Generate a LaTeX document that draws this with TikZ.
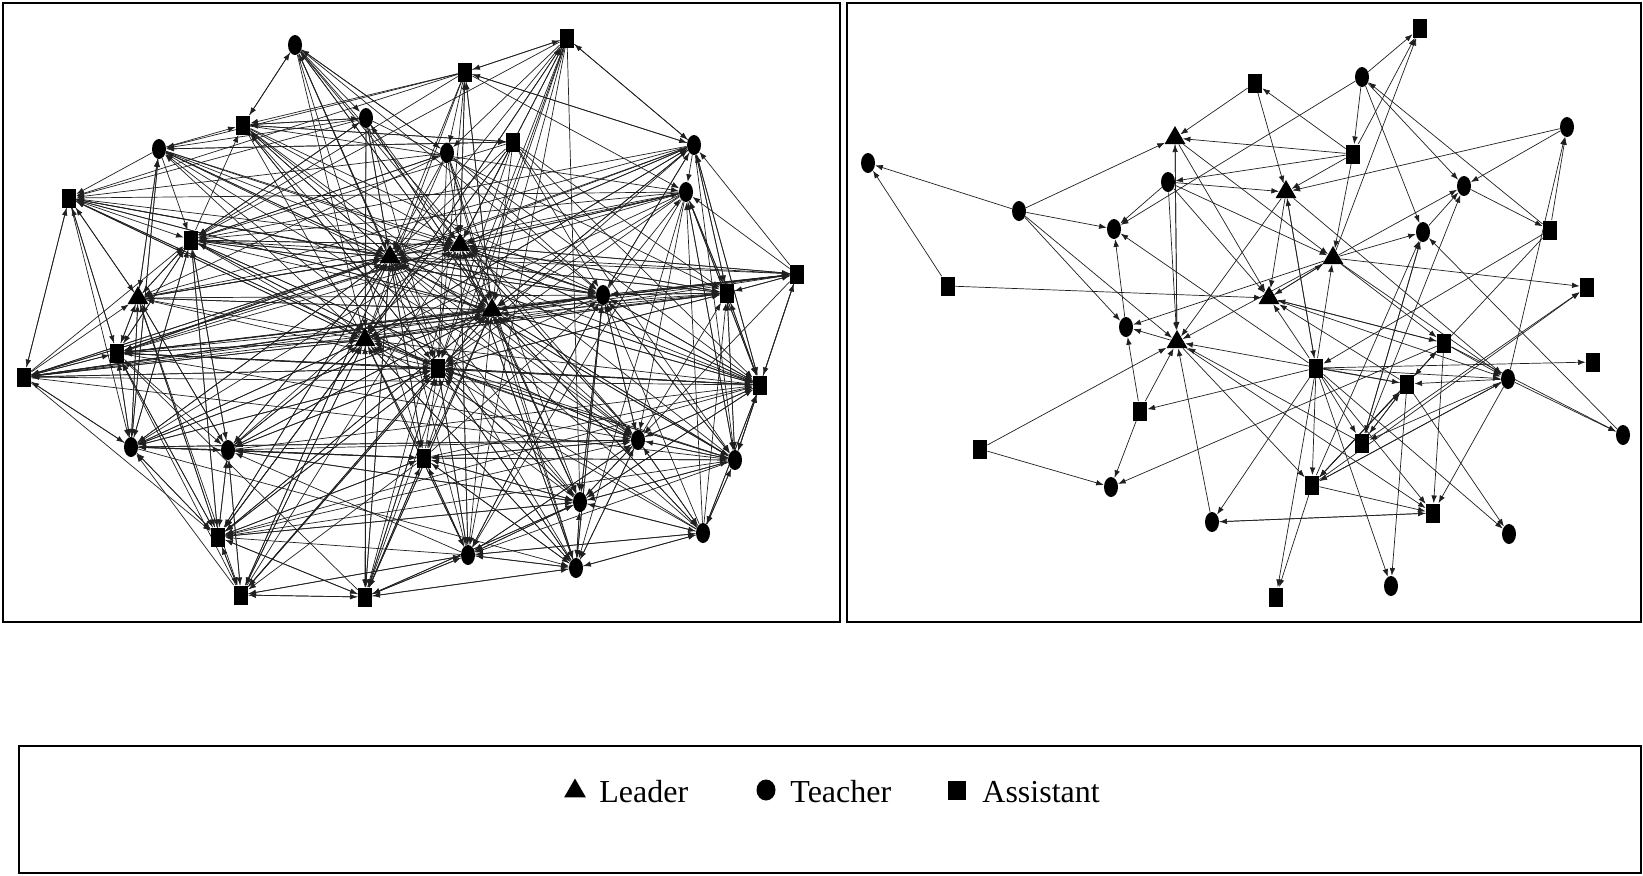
\documentclass[tikz,border=0pt]{standalone}
\usepackage{fontspec}
\setmainfont{Liberation Serif}
\usetikzlibrary{shapes.geometric,arrows.meta}
\pgfdeclarelayer{bg}
\pgfsetlayers{bg,main}
\begin{document}
\begin{tikzpicture}[x=0.5pt,y=-0.5pt,
  sq/.style={rectangle,fill=black,inner sep=0pt,minimum width=7pt,minimum height=9.5pt},
  ci/.style={ellipse,fill=black,inner sep=0pt,minimum width=7pt,minimum height=10pt},
  tr/.style={regular polygon,regular polygon sides=3,fill=black,inner sep=0pt,minimum size=12pt},
  edge/.style={draw=black!88,line width=0.35pt,-{Latex[length=3.8pt,width=2.8pt]}},
  frame/.style={draw=black,line width=1pt},
  legtext/.style={anchor=west,inner sep=0pt,font=\fontsize{16}{19}\selectfont}]
\useasboundingbox (0,0) rectangle (1643,875);

% panel frames
\draw[frame] (3,3) rectangle (840,622);
\draw[frame] (847,3) rectangle (1641,622);
\draw[frame] (19,746) rectangle (1641,873);

% left network nodes
\foreach \n/\s/\x/\y in {1/ci/295/45,2/sq/567/38,3/sq/465/72,4/sq/243/125,5/ci/366/118,
  6/ci/159/149,7/sq/513/142,8/ci/447/153,9/ci/694/145,10/sq/69/198,11/ci/686/192,
  12/sq/191/240,13/tr/390/257,14/tr/460/245,15/tr/138/298,16/ci/603/295,17/sq/727/293,
  18/sq/797/274,19/tr/492/310,20/tr/365/340,21/sq/117/353,22/sq/24/377,23/sq/438/368,
  24/sq/760/385,25/ci/131/447,26/ci/228/450,27/sq/424/458,28/ci/638/440,29/ci/735/460,
  30/ci/580/502,31/sq/218/537,32/ci/703/533,33/ci/468/555,34/ci/576/568,35/sq/241/595,
  36/sq/365/597}
  {\node[\s] (L\n) at (\x,\y) {};}

% right network nodes
\foreach \n/\s/\x/\y in {1/ci/868/163,2/ci/1019/211,3/ci/1114/229,4/ci/1168/182,
  5/tr/1175/138,6/sq/1255/83,7/sq/948/286,8/sq/1420/28,9/ci/1362/77,10/ci/1567/127,
  11/sq/1353/154,12/tr/1286/192,13/ci/1464/186,14/ci/1423/232,15/sq/1550/230,
  16/tr/1333/258,17/sq/1587/287,18/tr/1269/298,19/ci/1126/327,20/tr/1177/342,
  21/sq/1140/411,22/sq/980/449,23/ci/1111/487,24/ci/1212/522,25/sq/1444/343,
  26/sq/1316/368,27/sq/1407/384,28/ci/1508/379,29/sq/1593/362,30/ci/1623/435,
  31/sq/1362/443,32/sq/1312/485,33/sq/1433/513,34/ci/1509/534,35/ci/1391/586,
  36/sq/1276/597}
  {\node[\s] (R\n) at (\x,\y) {};}

\begin{pgfonlayer}{bg}
% left network edges
\foreach \s/\tl in {
  1/{4,5,13,14,19,20,23,16,27,8,28},
  2/{3,9,13,14,19,20,23,12,8,27,33,30,36},
  3/{2,9,11,8,13,14,19,20,23,12,10,4,6},
  4/{1,5,7,13,14,19,23,28,16,11,30,20},
  5/{4,6,10,13,20,23,27,36,14,19,12,17},
  6/{10,4,15,25,12,13,14,19,28,16,7,24},
  7/{4,6,13,14,19,20,23,12,16,17,24,29,31},
  8/{1,12,13,14,19,20,23,10,16,24,30,34,15},
  9/{2,3,13,14,19,20,23,12,15,21,17,24,29,11,16},
  10/{12,15,13,14,19,20,23,21,25,16,22},
  11/{13,14,19,20,23,12,15,21,17,24,28,29,33,34,10},
  12/{4,5,8,13,14,19,20,23,15,21,25,26,31,16,28},
  13/{4,6,10,12,15,21,22,25,26,31,35,36,17,24,29},
  14/{2,3,9,11,17,18,24,16,28,30,33,34,12,22},
  15/{6,10,12,13,14,19,20,21,25,26,31,35,16},
  16/{13,14,19,20,23,9,11,17,18,24,28,29,30,33,34,12,21,22},
  17/{9,11,18,24,29,13,14,19,20,23,16,21},
  18/{9,11,17,24,29,13,14,19,16,28,21,22,12},
  19/{1,3,5,9,10,15,22,24,25,26,31,32,35,36,18,29},
  20/{2,6,10,21,22,25,26,31,35,36,33,34,17,18,9},
  21/{10,12,15,22,25,26,13,14,19,20,23,28,24,18,31},
  22/{10,21,15,25,12,13,14,19,20,23,29,17,31},
  23/{1,4,6,10,12,15,21,22,25,26,31,35,36,33,34,30,29,24,17},
  24/{17,18,29,11,9,16,13,14,19,20,23,28,30,32,21,22},
  25/{21,22,15,26,31,12,13,14,19,20,23,28,27,6,34},
  26/{25,27,12,15,13,14,19,20,23,31,35,30,28,24},
  27/{26,25,20,13,19,23,28,29,30,33,34,36,35,31,16,24},
  28/{16,17,24,29,13,14,19,20,23,30,33,34,32,27,12,25},
  29/{24,17,28,32,30,27,13,14,19,20,23,16,11,31,33},
  30/{33,34,28,32,29,13,14,19,20,23,16,27,36,31,26,24},
  31/{35,36,25,26,15,12,13,19,20,23,21,27,30,28,24},
  32/{34,30,29,24,28,16,13,19,20,23,33,11,17},
  33/{34,36,30,27,35,13,14,19,20,23,31,26,28,16,32},
  34/{33,30,32,28,13,14,19,20,23,27,36,16},
  35/{31,36,26,25,13,14,19,20,23,33,21},
  36/{35,33,34,27,31,13,14,19,20,23,30,21}}
  {\foreach \t in \tl {\draw[edge] (L\s) -- (L\t);}}

% right network edges
\foreach \a/\b in {2/1,7/1,2/5,2/3,2/19,2/20,4/3,19/3,9/3,26/3,
  6/5,11/5,11/4,11/12,4/12,11/6,6/12,9/8,11/8,16/8,9/11,9/14,9/13,15/9,10/12,10/13,
  15/10,28/10,13/15,16/13,31/13,14/13,16/14,31/14,14/31,30/14,32/14,
  5/18,5/16,5/20,20/5,4/16,4/18,4/20,12/20,12/18,12/26,26/12,11/16,16/20,16/18,18/16,
  26/16,16/25,16/28,16/17,16/19,20/19,21/19,22/20,22/23,21/20,21/23,26/21,24/20,26/24,
  33/24,24/33,7/18,27/20,31/20,20/33,20/32,25/23,
  18/25,25/18,18/28,27/18,26/18,
  26/36,32/36,26/35,26/32,26/27,26/29,26/34,26/33,26/31,26/28,
  25/27,27/25,25/28,25/33,25/30,28/27,31/27,27/31,27/32,32/27,27/35,27/34,28/31,28/32,
  32/28,28/30,28/33,32/33,32/17,31/17,15/32,15/26,12/28}
  {\draw[edge] (R\a) -- (R\b);}
\end{pgfonlayer}

% legend
\node[tr,minimum size=12.5pt] (legtri) at (575,791) {};
\node[legtext] (legL) at (599,792) {Leader};
\node[ci,minimum width=9.5pt,minimum height=10.5pt] (legci) at (766,790) {};
\node[legtext] (legT) at (790,792) {Teacher};
\node[sq,minimum width=9pt,minimum height=9.5pt] (legsq) at (957,790) {};
\node[legtext] (legA) at (982,792) {Assistant};
\end{tikzpicture}
\end{document}
